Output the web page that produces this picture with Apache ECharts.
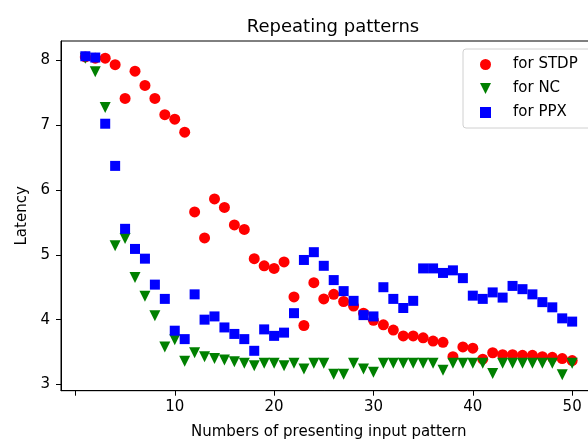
<!DOCTYPE html>
<html>
<head>
<meta charset="utf-8">
<script src="https://cdn.jsdelivr.net/npm/echarts@6/dist/echarts.min.js"></script>
<style>
html,body{margin:0;padding:0;background:#fff;overflow:hidden;}
#chart{width:588px;height:441px;}
</style>
</head>
<body>
<div id="chart"></div>
<script>
const patternCounts = [1,2,3,4,5,6,7,8,9,10,11,12,13,14,15,16,17,18,19,20,21,22,23,24,25,26,27,28,29,30,31,32,33,34,35,36,37,38,39,40,41,42,43,44,45,46,47,48,49,50];
const stdpLatency = [8.05,8.03,8.03,7.93,7.41,7.83,7.61,7.41,7.16,7.09,6.89,5.66,5.26,5.86,5.73,5.46,5.39,4.94,4.83,4.79,4.89,4.35,3.91,4.57,4.32,4.39,4.28,4.21,4.10,3.99,3.92,3.84,3.75,3.75,3.72,3.67,3.65,3.43,3.58,3.56,3.39,3.49,3.46,3.46,3.45,3.45,3.43,3.42,3.40,3.37];
const ncLatency = [8.03,7.82,7.27,5.14,5.25,4.65,4.36,4.06,3.58,3.69,3.36,3.49,3.43,3.40,3.38,3.35,3.33,3.29,3.33,3.33,3.29,3.33,3.24,3.33,3.33,3.16,3.16,3.33,3.24,3.19,3.33,3.33,3.33,3.33,3.33,3.33,3.22,3.33,3.33,3.33,3.33,3.17,3.33,3.33,3.33,3.33,3.33,3.33,3.15,3.33];
const ppxLatency = [8.06,8.04,7.02,6.37,5.40,5.09,4.94,4.54,4.32,3.83,3.70,4.39,4.00,4.05,3.88,3.78,3.70,3.52,3.85,3.75,3.80,4.10,4.92,5.04,4.83,4.61,4.44,4.29,4.07,4.05,4.50,4.32,4.18,4.29,4.79,4.79,4.72,4.76,4.64,4.37,4.32,4.42,4.34,4.52,4.47,4.39,4.27,4.19,4.02,3.97];
const xTickValues = [0,10,20,30,40,50];
const xTickLabels = [10,20,30,40,50];
const yTickValues = [3,4,5,6,7,8];
const seriesNames = ['for STDP','for NC','for PPX'];

const pair = (ys) => patternCounts.map((x, i) => [x, ys[i]]);
const downTri = 'path://M0,0L2,0L1,2Z';
const FONT = 'DejaVu Sans';

const chart = echarts.init(document.getElementById('chart'), null, {renderer:'canvas'});
chart.setOption({
  animation: false,
  backgroundColor: '#ffffff',
  textStyle: {fontFamily: FONT},
  title: {
    text: 'Repeating patterns',
    left: 328, top: 13, textAlign: 'center',
    textStyle: {fontFamily: FONT, fontSize: 18, fontWeight: 'normal', color: '#000'}
  },
  grid: {left: 61, top: 41, width: 535.5, height: 349.7, containLabel: false, outerBoundsMode: 'none',
         show: true, borderColor: '#000', borderWidth: 1, backgroundColor: 'transparent'},
  legend: {
    orient: 'vertical', left: 463, top: 49,
    itemWidth: 11, itemHeight: 11, itemGap: 9,
    padding: [8, 14, 8, 17],
    backgroundColor: '#fff', borderColor: '#d0d0d0', borderWidth: 1, borderRadius: 3,
    textStyle: {fontFamily: FONT, fontSize: 15, color: '#000', padding: [0,0,0,17]},
    data: [
      {name: seriesNames[0], icon: 'circle'},
      {name: seriesNames[1], icon: downTri},
      {name: seriesNames[2], icon: 'rect'}
    ]
  },
  xAxis: {
    type: 'value', min: -1.45, max: 52.45,
    name: 'Numbers of presenting input pattern', nameLocation: 'middle', nameGap: 34,
    nameTextStyle: {fontFamily: FONT, fontSize: 15, color: '#000'},
    axisLine: {show: true, onZero: false, lineStyle: {color: '#000', width: 1}},
    axisTick: {show: true, length: 5, lineStyle: {color: '#000'}, customValues: xTickValues},
    axisLabel: {fontFamily: FONT, fontSize: 15, color: '#000', margin: 9, customValues: xTickLabels},
    splitLine: {show: false}
  },
  yAxis: {
    type: 'value', min: 2.905, max: 8.295,
    name: 'Latency', nameLocation: 'middle', nameGap: 31, nameRotate: 90,
    nameTextStyle: {fontFamily: FONT, fontSize: 15, color: '#000'},
    axisLine: {show: true, onZero: false, lineStyle: {color: '#000', width: 1}},
    axisTick: {show: true, length: 5, lineStyle: {color: '#000'}, customValues: yTickValues},
    axisLabel: {fontFamily: FONT, fontSize: 15, color: '#000', margin: 11, customValues: yTickValues},
    splitLine: {show: false}
  },
  series: [
    {name: seriesNames[0], type: 'scatter', data: pair(stdpLatency), symbol: 'circle', symbolSize: 11,
     itemStyle: {color: '#ff0000', opacity: 1}, emphasis: {disabled: true}},
    {name: seriesNames[1], type: 'scatter', data: pair(ncLatency), symbol: downTri, symbolSize: 11,
     itemStyle: {color: '#008000', opacity: 1}, emphasis: {disabled: true}},
    {name: seriesNames[2], type: 'scatter', data: pair(ppxLatency), symbol: 'rect', symbolSize: 10,
     itemStyle: {color: '#0000ff', opacity: 1}, emphasis: {disabled: true}}
  ]
});
</script>
</body>
</html>
